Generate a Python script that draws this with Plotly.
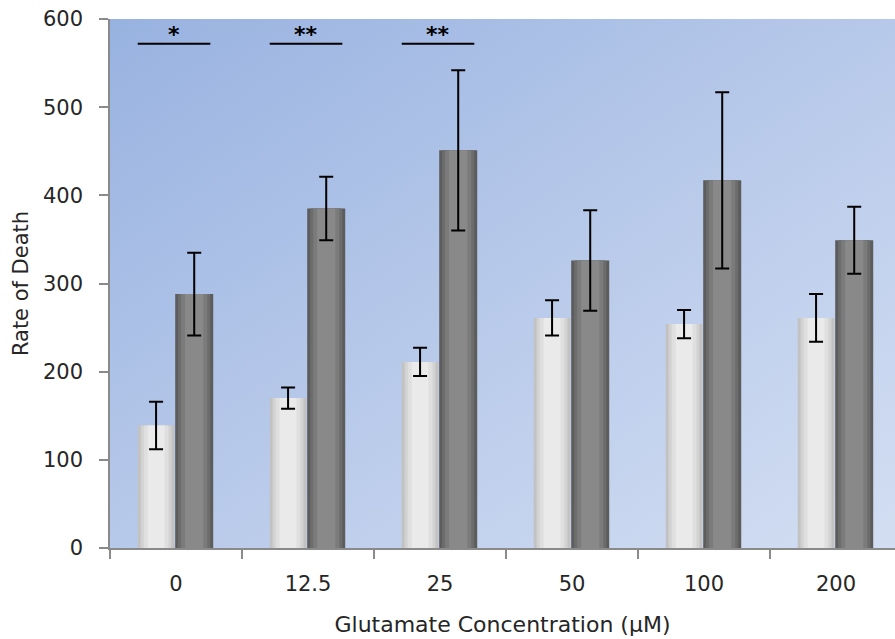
import base64
import plotly.graph_objects as go

# Glutamate concentrations (µM) on the category axis
concentrations = ["0", "12.5", "25", "50", "100", "200"]

# Rate of death: light series and dark series, each with its error (±)
light_values = [139, 170, 211, 261, 254, 261]
light_errors = [27, 12, 16, 20, 16, 27]
dark_values = [288, 385, 451, 326, 417, 349]
dark_errors = [47, 36, 91, 57, 100, 38]

# Significance brackets: category index and star label
sig_index = [0, 1, 2]
sig_labels = ["*", "**", "**"]
sig_level = 572

y_ticks = [0, 100, 200, 300, 400, 500, 600]

font_family = "DejaVu Sans"
text_color = "#262626"
axis_color = "#8a8a8a"

fig = go.Figure()

# Each bar is built from nested layers (edge -> centre) to give a shaded,
# cylinder-like look; the innermost layer carries the error bar.
light_layers = [("#c2c2c2", 0.0), ("#d2d2d2", 0.022), ("#dfdfdf", 0.045), ("#eaeaea", 0.075)]
dark_layers = [("#5c5c5c", 0.0), ("#6c6c6c", 0.022), ("#7b7b7b", 0.045), ("#898989", 0.075)]
light_span = (-0.29, -0.012)   # left/right edge relative to category centre
dark_span = (-0.006, 0.282)


def add_layers(values, errors, layers, span, name):
    left, right = span
    for i, (color, inset) in enumerate(layers):
        last = i == len(layers) - 1
        fig.add_trace(go.Bar(
            x=concentrations, y=values, name=name,
            offset=left + inset, width=(right - left) - 2 * inset,
            marker=dict(color=color, line=dict(width=0)),
            error_y=dict(type="data", array=errors, visible=last,
                         color="#000000", thickness=2, width=7),
            hoverinfo="skip" if not last else None,
        ))


add_layers(light_values, light_errors, light_layers, light_span, "Light")
add_layers(dark_values, dark_errors, dark_layers, dark_span, "Dark")

# Diagonal blue gradient behind the plot area
svg = (
    '<svg xmlns="http://www.w3.org/2000/svg" width="100" height="100" '
    'preserveAspectRatio="none" viewBox="0 0 100 100">'
    '<defs><linearGradient id="g" x1="0" y1="0" x2="1" y2="1">'
    '<stop offset="0" stop-color="#98b2e0"/>'
    '<stop offset="0.5" stop-color="#b7c9ea"/>'
    '<stop offset="1" stop-color="#d3def2"/>'
    '</linearGradient></defs>'
    '<rect width="100" height="100" fill="url(#g)"/></svg>'
)
bg_src = "data:image/svg+xml;base64," + base64.b64encode(svg.encode()).decode()

shapes = []
annotations = []
for idx, label in zip(sig_index, sig_labels):
    shapes.append(dict(type="line", xref="x", yref="y",
                       x0=idx - 0.29, x1=idx + 0.26, y0=sig_level, y1=sig_level,
                       line=dict(color="#000000", width=2)))
    annotations.append(dict(x=idx - 0.015, y=sig_level, xref="x", yref="y",
                            text="<b>" + label + "</b>", showarrow=False,
                            yanchor="bottom", yshift=-5,
                            font=dict(family=font_family, size=22, color="#000000")))

fig.update_layout(
    width=895, height=639,
    margin=dict(l=110, r=0, t=19, b=91),
    paper_bgcolor="#ffffff",
    plot_bgcolor="rgba(0,0,0,0)",
    showlegend=False,
    barmode="overlay",
    images=[dict(source=bg_src, xref="paper", yref="paper", x=0, y=1,
                 sizex=1, sizey=1, sizing="stretch", layer="below",
                 xanchor="left", yanchor="top")],
    shapes=shapes,
    annotations=annotations,
    font=dict(family=font_family, color=text_color),
    xaxis=dict(
        type="category",
        range=[-0.5, -0.5 + 785 / 132],
        tickson="boundaries",
        ticks="outside", ticklen=9, tickcolor=axis_color, tickwidth=1.5,
        showline=True, linecolor=axis_color, linewidth=1.5,
        showgrid=False,
        ticklabelstandoff=16,
        tickfont=dict(size=21, family=font_family, color=text_color),
        title=dict(text="Glutamate Concentration (µM)", standoff=22,
                   font=dict(size=22, family=font_family, color=text_color)),
    ),
    yaxis=dict(
        range=[0, 600],
        tickvals=y_ticks,
        ticks="outside", ticklen=9, tickcolor=axis_color, tickwidth=1.5,
        showline=True, linecolor=axis_color, linewidth=1.5,
        showgrid=False, zeroline=False,
        ticklabelstandoff=12,
        tickfont=dict(size=21, family=font_family, color=text_color),
        title=dict(text="Rate of Death", standoff=9,
                   font=dict(size=21, family=font_family, color=text_color)),
    ),
)

fig.write_html("out.html")
